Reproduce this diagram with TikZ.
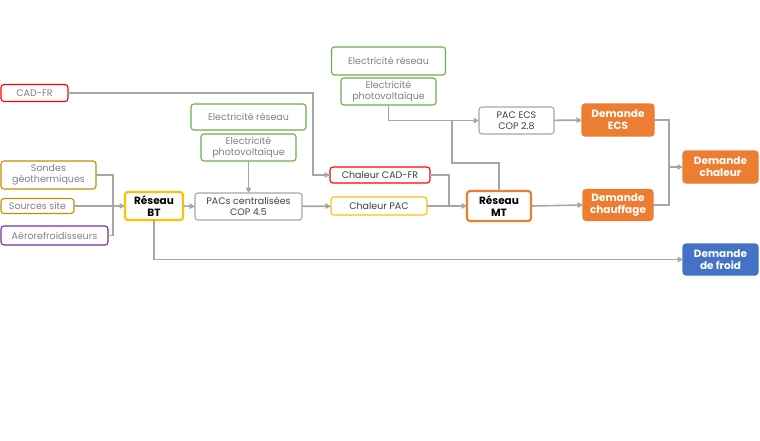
\documentclass[tikz,border=0pt]{standalone}
\usepackage{fontspec}
\setmainfont{Poppins}
\usepackage{tikz}
\usetikzlibrary{arrows.meta,positioning}
\definecolor{lgrey}{RGB}{166,166,166}
\definecolor{tgrey}{RGB}{128,128,128}
\definecolor{dgrey}{RGB}{64,64,64}
\definecolor{cred}{RGB}{255,0,0}
\definecolor{cgold}{RGB}{191,144,0}
\definecolor{cpurp}{RGB}{112,48,160}
\definecolor{cgreen}{RGB}{112,173,71}
\definecolor{cyell}{RGB}{255,192,0}
\definecolor{corng}{RGB}{237,125,49}
\definecolor{cblue}{RGB}{68,114,196}

\begin{document}
\begin{tikzpicture}[x=1pt, y=-1pt, >={Triangle[length=5.5pt,width=5.5pt]},
  bx/.style={draw, rounded corners=3pt, line width=1.1pt, align=center, inner sep=0pt,
    outer sep=0pt, text=tgrey, font=\fontsize{9.5}{11.5}\selectfont},
  res/.style={bx, line width=2.2pt, text=black, font=\fontsize{10.5}{12}\selectfont\bfseries},
  dem/.style={bx, text=white, font=\fontsize{10.5}{12}\selectfont\bfseries},
  ln/.style={draw=lgrey, line width=1.6pt},
  cn/.style={ln, ->}]
\useasboundingbox (0,0) rectangle (760,440);
\node[bx,draw=cred,minimum width=67,minimum height=17]   (cad)  at (34.5,93)  {CAD-FR};
\node[bx,draw=cgold,minimum width=95,minimum height=28]  (sond) at (48.5,175) {Sondes\\géothermiques};
\node[bx,draw=cgold,minimum width=73,minimum height=15]  (src)  at (37.5,206) {Sources site};
\node[bx,draw=cpurp,minimum width=107,minimum height=19] (aero) at (54.5,235.5) {Aérorefroidisseurs};
%
\node[res,draw=cyell,minimum width=58,minimum height=28] (bt)   at (154,206) {Réseau\\BT};
\node[bx,draw=lgrey,text=dgrey,minimum width=107,minimum height=27] (pacs) at (248.5,206.5) {PACs centralisées\\COP 4.5};
\node[bx,draw=cgreen,minimum width=95,minimum height=27] (pv1)  at (248.5,147.5) {Electricité\\photovoltaïque};
\node[bx,draw=cgreen,minimum width=115,minimum height=26,above=4pt of pv1] (el1) {Electricité réseau};
%
\node[bx,draw=cred,text=dgrey,minimum width=100,minimum height=16]  (chcad) at (380,175) {Chaleur CAD-FR};
\node[bx,draw=cyell,text=dgrey,minimum width=96,minimum height=18]  (chpac) at (379,206) {Chaleur PAC};
\node[bx,draw=cgreen,minimum width=95,minimum height=27] (pv2)  at (388.5,91.5) {Electricité\\photovoltaïque};
\node[bx,draw=cgreen,minimum width=114,minimum height=28,above=3pt of pv2] (el2) {Electricité réseau};
%
\node[bx,draw=lgrey,text=dgrey,minimum width=75,minimum height=27] (ecs) at (516.5,120.5) {PAC ECS\\COP 2.8};
\node[res,draw=corng,minimum width=64,minimum height=30] (mt)   at (499,206) {Réseau\\MT};
%
\node[dem,draw=corng,fill=corng,minimum width=72,minimum height=32] (decs)  at (618,120)   {Demande\\ECS};
\node[dem,draw=corng,fill=corng,minimum width=70,minimum height=31] (dchf)  at (618,205)   {Demande\\chauffage};
\node[dem,draw=corng,fill=corng,minimum width=75,minimum height=32] (dchl)  at (720.5,167) {Demande\\chaleur};
\node[dem,draw=cblue,fill=cblue,minimum width=75,minimum height=31] (dfr)   at (720.5,259.5) {Demande\\de froid};
%
\coordinate (jbt) at (113,206);
\coordinate (jmt) at (449,206);
\coordinate (jec) at (452,120);
\coordinate (jch) at (669,167);
%
\path[ln]
	(sond.east) -| (jbt)
	(aero.east) -| (jbt)
	(chcad.east) -| (jmt)
	(chpac.east) -- (jmt)
	(mt.north) -- ++(0,-28) -| (jec)
	(decs.east) -| (jch)
	(dchf.east) -| (jch);
\path[cn] (src.east) -- (bt.west);
\path[cn] (bt) -- (pacs);
\path[cn] (bt.south) |- (dfr.west);
\path[cn] (pv1) -- (pacs);
\path[cn] (pacs) -- (chpac);
\path[cn] (cad.east) -- ++(245,0) |- (chcad.west);
\path[cn] (jmt) -- (mt.west);
\path[cn] (pv2.south) |- (ecs.west);
\path[cn] (ecs) -- (decs);
\path[cn] (mt.east) -- (dchf.west);
\path[cn] (jch) -- (dchl.west);
%-draw-%
\end{tikzpicture}
\end{document}
